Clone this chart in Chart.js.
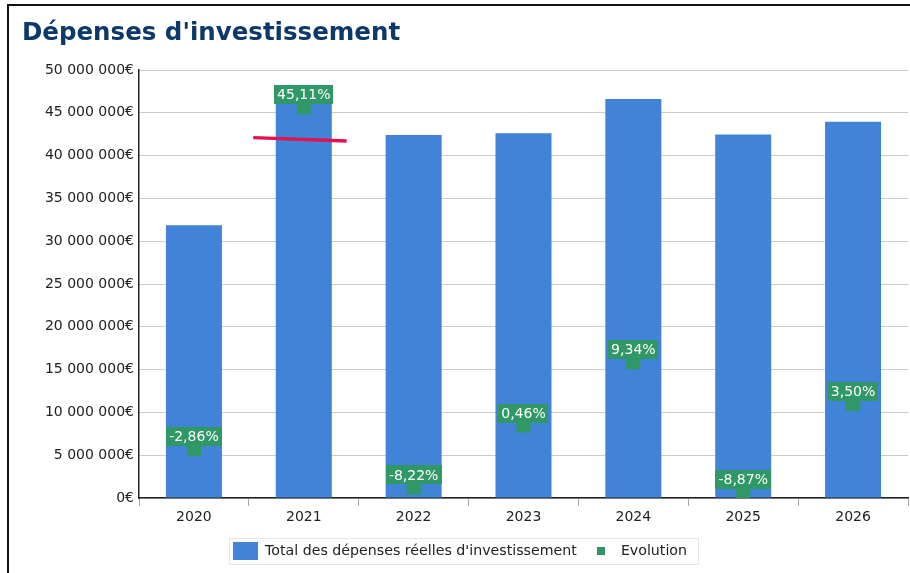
<!DOCTYPE html>
<html>
<head>
<meta charset="utf-8">
<script src="https://cdn.jsdelivr.net/npm/chart.js@4"></script>
<style>
  html, body { margin: 0; padding: 0; background: #fff; overflow: hidden; }
  #frame { position: absolute; left: 7px; top: 4px; width: 1000px; height: 1000px;
           border-top: 2px solid #111; border-left: 2px solid #111; }
  #c { position: absolute; left: 0; top: 0; }
</style>
</head>
<body>
<div id="frame"></div>
<canvas id="c" width="910" height="573"></canvas>
<script>
// Data
const years = ['2020', '2021', '2022', '2023', '2024', '2025', '2026'];
const totalDepenses = [31850000, 46220000, 42420000, 42620000, 46600000, 42470000, 43950000];
const evolution = [-2.86, 45.11, -8.22, 0.46, 9.34, -8.87, 3.50];
// the red stroke over 2021 (x in category units, y in euros)
const redMark = [{x: 0.54, y: 42100000}, {x: 1.39, y: 41700000}];

const BLUE = '#4183d7';
const GREEN = '#2f9866';
const FONT = 'DejaVu Sans';

// euro formatting with space thousands
function euros(v){
  return String(Math.round(v)).replace(/\B(?=(\d{3})+(?!\d))/g, ' ') + '€';
}
function pct(v){
  return v.toFixed(2).replace('.', ',') + '%';
}

// small canvases used as legend icons
function icon(w, h, color){
  const cv = document.createElement('canvas');
  cv.width = w; cv.height = h;
  const cx = cv.getContext('2d');
  cx.fillStyle = color;
  cx.fillRect(0, 0, w, h);
  return cv;
}
const barIcon = icon(25, 18, BLUE);
const evoIcon = icon(8, 8, GREEN);

// green boxes with the percentage above each point
const evoLabels = {
  id: 'evoLabels',
  afterDatasetsDraw(chart){
    const ctx = chart.ctx;
    const meta = chart.getDatasetMeta(0);
    ctx.save();
    ctx.font = '14px "' + FONT + '"';
    ctx.textAlign = 'center';
    ctx.textBaseline = 'middle';
    meta.data.forEach((pt, i) => {
      const txt = pct(evolution[i]);
      const w = ctx.measureText(txt).width + 6;
      const h = 19;
      const bottom = pt.y - 3;
      ctx.fillStyle = GREEN;
      ctx.fillRect(Math.round(pt.x - w / 2), Math.round(bottom - h), Math.round(w), h);
      ctx.fillStyle = '#fff';
      ctx.fillText(txt, pt.x, bottom - h / 2 + 1);
    });
    ctx.restore();
  }
};

// nudge the legend a little to the left, then frame it
const legendFrame = {
  id: 'legendFrame',
  afterLayout(chart){
    if (chart.legend) {
      chart.legend.left -= 5;
      chart.legend.right -= 5;
    }
  },
  afterDraw(chart){
    const lg = chart.legend;
    if (!lg || !lg.legendHitBoxes || !lg.legendHitBoxes.length) return;
    const hb = lg.legendHitBoxes;
    const first = hb[0], last = hb[hb.length - 1];
    const ctx = chart.ctx;
    ctx.save();
    ctx.strokeStyle = '#e6e6e6';
    ctx.lineWidth = 1;
    ctx.strokeRect(Math.round(first.left - 4) + 0.5, Math.round(first.top - 6) + 0.5,
      Math.round(last.left + last.width + 11 - (first.left - 4)), Math.round(first.height + 12));
    ctx.restore();
  }
};

new Chart(document.getElementById('c'), {
  type: 'bar',
  data: {
    labels: years,
    datasets: [
      {
        type: 'line',
        label: 'Evolution',
        data: evolution,
        yAxisID: 'y1',
        showLine: false,
        pointStyle: 'rect',
        pointRadius: 10,
        pointHoverRadius: 10,
        pointBorderWidth: 0,
        pointBackgroundColor: GREEN,
        backgroundColor: GREEN,
        borderColor: GREEN
      },
      {
        type: 'line',
        label: 'mark',
        data: redMark,
        xAxisID: 'x2',
        yAxisID: 'y',
        borderColor: '#e5104e',
        borderWidth: 3.4,
        pointRadius: 0,
        fill: false
      },
      {
        type: 'bar',
        label: "Total des dépenses réelles d'investissement",
        data: totalDepenses,
        backgroundColor: BLUE,
        grouped: false,
        categoryPercentage: 1,
        barPercentage: 0.51
      }
    ]
  },
  options: {
    responsive: false,
    animation: false,
    layout: { autoPadding: false, padding: { left: 22, right: 2, top: 0, bottom: 4.9 } },
    plugins: {
      title: {
        display: true,
        text: "Dépenses d'investissement",
        align: 'start',
        color: '#0c386a',
        font: { family: FONT, size: 24.5, weight: 'bold' },
        padding: { top: 19, bottom: 21.6 }
      },
      legend: {
        position: 'bottom',
        labels: {
          usePointStyle: true,
          pointStyleWidth: 25,
          boxHeight: 14,
          padding: 12,
          color: '#222',
          font: { family: FONT, size: 14.2 },
          generateLabels(chart){
            return [
              { text: "Total des dépenses réelles d'investissement", pointStyle: barIcon,
                fillStyle: BLUE, strokeStyle: BLUE, lineWidth: 0, datasetIndex: 2, fontColor: '#222' },
              { text: 'Evolution', pointStyle: evoIcon,
                fillStyle: GREEN, strokeStyle: GREEN, lineWidth: 0, datasetIndex: 0, fontColor: '#222' }
            ];
          }
        }
      },
      tooltip: { enabled: false }
    },
    scales: {
      x: {
        offset: true,
        grid: {
          offset: true,
          drawOnChartArea: true,
          color: ctx => (ctx.index === years.length ? '#cccccc' : 'rgba(0,0,0,0)'),
          tickColor: '#aaaaaa',
          tickLength: 8
        },
        border: { color: '#222', width: 1.5 },
        ticks: { color: '#222', padding: 3, font: { family: FONT, size: 14 } },
        afterFit(scale){ scale.height += 3.1; }
      },
      x2: {
        type: 'linear',
        display: false,
        offset: false,
        min: -0.5,
        max: 6.5
      },
      y: {
        min: 0,
        max: 50000000,
        ticks: {
          stepSize: 5000000,
          color: '#222',
          padding: 5,
          font: { family: FONT, size: 14 },
          callback: v => euros(v)
        },
        grid: { color: '#cccccc', drawTicks: false },
        border: { color: '#222', width: 1.5 },
        afterFit(scale){ scale.width = 117; }
      },
      y1: {
        display: false,
        min: -9.7,
        max: 50.3
      }
    }
  },
  plugins: [evoLabels, legendFrame]
});
</script>
</body>
</html>
